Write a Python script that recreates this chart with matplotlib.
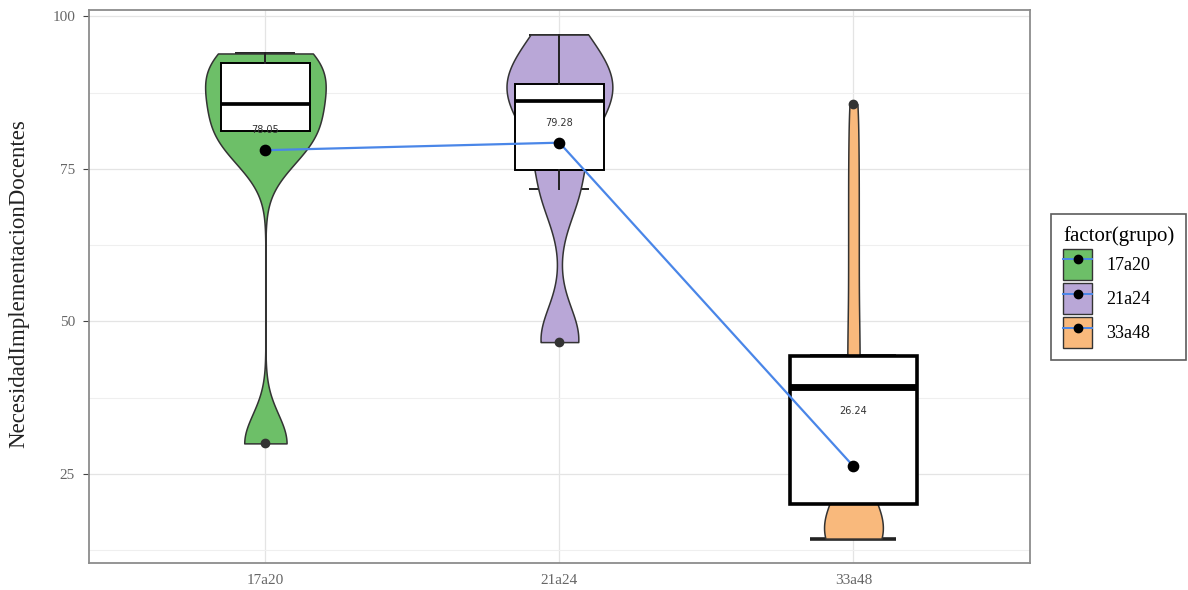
import numpy as np
import matplotlib
matplotlib.use("Agg")
import matplotlib.pyplot as plt
from matplotlib.patches import Patch
from matplotlib.lines import Line2D

# grupos de edad
grupos = ["17a20", "21a24", "33a48"]

# respuestas por grupo (para la densidad del violín)
resp_17a20 = [30, 30, 78, 79, 81, 83, 86, 88, 90, 92, 93.9, 93.9]
resp_21a24 = [46.6, 47.5, 70, 74, 80, 84, 86, 88, 89, 91, 94, 97]
resp_33a48 = [14.4, 14.4, 14.4, 14.4, 14.4, 15, 16, 17, 18, 20, 23,
              26, 32, 38, 44, 50, 57, 64, 71, 78, 85.6]

# estadísticos del boxplot
q1 = [81.2, 74.8, 20.0]
mediana = [85.6, 86.1, 39.3]
q3 = [92.3, 88.9, 44.4]
bigote_inf = [81.2, 71.7, 20.0]
bigote_sup = [93.9, 97.0, 44.4]
tapa_inf = [81.2, 71.7, 14.4]
atipicos = [[30.0], [46.6], [85.6]]

# medias por grupo
medias = [78.05, 79.28, 26.24]

colores = ["#6dbf68", "#b9a7d7", "#f9b97c"]
bw = [4.8, 5.2, 5.0]
medio_ancho = [0.205, 0.18, 0.1]
ancho_caja = [0.30, 0.30, 0.43]
grosor_caja = [1.4, 1.4, 2.6]
desplaz_etiqueta = [3.3, 3.3, 9.0]

datos = [resp_17a20, resp_21a24, resp_33a48]
pos = np.arange(1, len(grupos) + 1)


def densidad(valores, h):
    valores = np.asarray(valores, dtype=float)
    y = np.linspace(valores.min(), valores.max(), 300)
    d = np.exp(-0.5 * ((y[:, None] - valores[None, :]) / h) ** 2).sum(axis=1)
    return y, d / d.max()


fig = plt.figure(figsize=(11.88, 5.9), dpi=100)
ax = fig.add_axes([0.0749, 0.0458, 0.792, 0.937])

for i, x in enumerate(pos):
    # tapas de los bigotes (quedan debajo del violín)
    w = ancho_caja[i] * 0.68
    ax.hlines([tapa_inf[i], bigote_sup[i]], x - w / 2, x + w / 2,
              color="#222222", lw=grosor_caja[i], zorder=1)

    y, d = densidad(datos[i], bw[i])
    ax.fill_betweenx(y, x - d * medio_ancho[i], x + d * medio_ancho[i],
                     facecolor=colores[i], edgecolor="#333333", lw=1.1, zorder=2)

    stats = [dict(med=mediana[i], q1=q1[i], q3=q3[i], whislo=bigote_inf[i],
                  whishi=bigote_sup[i], fliers=atipicos[i])]
    lw = grosor_caja[i]
    ax.bxp(stats, positions=[x], widths=ancho_caja[i], patch_artist=True,
           showcaps=False, manage_ticks=False, zorder=3,
           boxprops=dict(facecolor="white", edgecolor="black", lw=lw),
           medianprops=dict(color="black", lw=lw * 1.9),
           whiskerprops=dict(color="#222222", lw=1.4),
           flierprops=dict(marker="o", markersize=6, markerfacecolor="#333333",
                           markeredgecolor="#333333"))

# línea y puntos de las medias
ax.plot(pos, medias, color="#4a86e8", lw=1.6, zorder=4)
ax.scatter(pos, medias, s=55, color="black", zorder=5)
for x, m, dy in zip(pos, medias, desplaz_etiqueta):
    ax.text(x, m + dy, f"{m:.2f}", ha="center", va="center", fontsize=7,
            color="#333333", zorder=6)

ax.set_xlim(0.4, 3.6)
ax.set_ylim(10.4, 101)
ax.set_xticks(pos)
ax.set_xticklabels(grupos)
ax.set_yticks([25, 50, 75, 100])
ax.set_yticks([12.5, 37.5, 62.5, 87.5], minor=True)
ax.grid(True, which="major", color="#e4e4e4", lw=0.9)
ax.grid(True, which="minor", axis="y", color="#efefef", lw=0.8)
ax.set_axisbelow(True)
for s in ax.spines.values():
    s.set_color("#8c8c8c")
    s.set_linewidth(1.3)
ax.tick_params(axis="y", which="major", length=4, color="#444444",
               labelsize=11, labelcolor="#666666", pad=6)
ax.tick_params(axis="y", which="minor", length=0)
ax.tick_params(axis="x", length=0, labelsize=11, labelcolor="#666666", pad=8)
for t in ax.get_xticklabels() + ax.get_yticklabels():
    t.set_family("Liberation Serif")

fig.text(19 / 1188, 1 - 284 / 590, "NecesidadImplementacionDocentes",
         rotation=90, ha="center", va="center", fontsize=16.5,
         family="Liberation Serif", color="#222222")

handles = [(Patch(facecolor=c, edgecolor="#333333"),
            Line2D([], [], color="#4a86e8", lw=1.4, marker="o",
                   markersize=6, markerfacecolor="black", markeredgecolor="black"))
           for c in colores]
leg = fig.legend(handles, grupos, title="factor(grupo)", loc="center left",
                 bbox_to_anchor=(0.885, 0.513), borderaxespad=0, frameon=True,
                 fancybox=False, edgecolor="#333333",
                 prop=dict(family="Liberation Serif", size=13),
                 handlelength=1.6, handleheight=2.3, handletextpad=0.8,
                 labelspacing=0.15, borderpad=0.65)
leg.get_title().set_family("Liberation Serif")
leg.get_title().set_fontsize(15)
leg.get_frame().set_linewidth(1.2)
leg._legend_box.align = "left"

fig.savefig("out.png", dpi=100)
